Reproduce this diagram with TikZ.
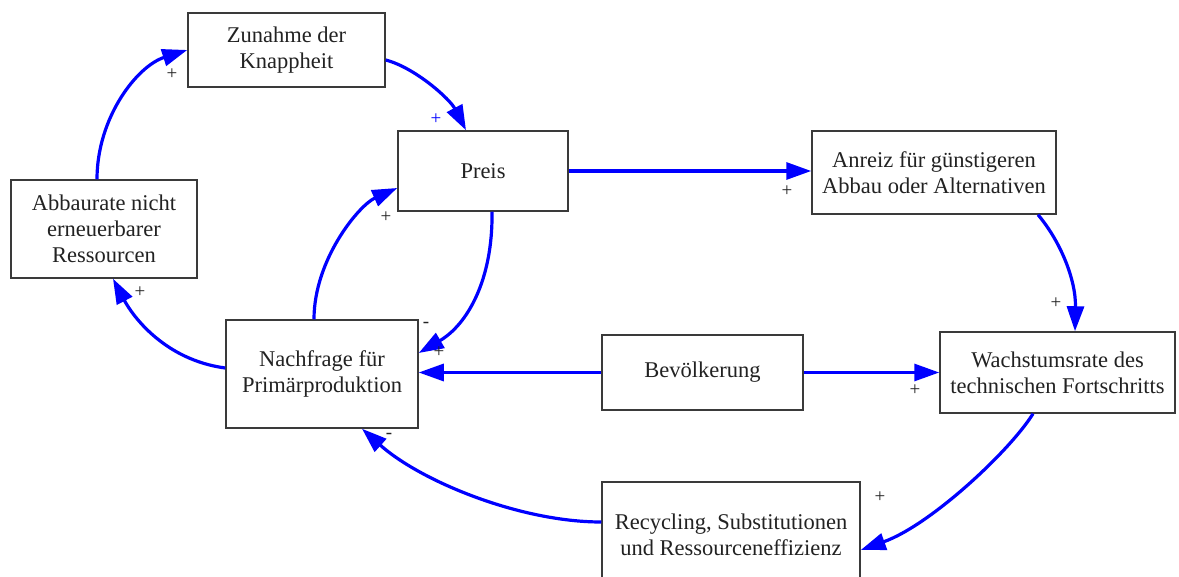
\documentclass[tikz,border=0pt]{standalone}
\usepackage{fontspec}
\setmainfont{Liberation Serif}
\usetikzlibrary{arrows.meta,calc}
\definecolor{boxline}{HTML}{3A3A3A}
\definecolor{ink}{HTML}{222222}
\definecolor{linkblue}{HTML}{0000FF}
\tikzset{
  box/.style={draw=boxline, line width=1.5pt, fill=white, inner sep=0pt,
    align=center, text=ink, font=\fontsize{22.5}{26}\selectfont},
  link/.style={draw=linkblue, line width=3.2pt,
    -{Triangle[length=25pt,width=17pt]}},
  sign/.style={text=ink, inner sep=0pt, font=\fontsize{19}{19}\selectfont}
}
\begin{document}
\begin{tikzpicture}[x=1pt,y=-1pt]
\useasboundingbox (0,0) rectangle (1179,577);
\clip (0,0) rectangle (1179,577);

% variables of the causal loop diagram
\node[box, minimum width=197pt, minimum height=74pt] (zun) at (286.5,50) {Zunahme der\\Knappheit};
\node[box, minimum width=186pt, minimum height=98pt] (abb) at (104,229) {Abbaurate nicht\\erneuerbarer\\Ressourcen};
\node[box, minimum width=170pt, minimum height=80pt] (preis) at (483,171) {Preis};
\node[box, minimum width=244pt, minimum height=83pt] (anr) at (934,172.5) {Anreiz für günstigeren\\Abbau oder Alternativen};
\node[box, minimum width=192pt, minimum height=108pt] (nach) at (322,374) {Nachfrage für\\Primärproduktion};
\node[box, minimum width=201pt, minimum height=75pt] (bev) at (702.5,372.5) {Bevölkerung};
\node[box, minimum width=235pt, minimum height=81pt] (wachs) at (1057.5,372.5) {Wachstumsrate des\\technischen Fortschritts};
\node[box, minimum width=258pt, minimum height=106pt] (rec) at (731,535) {Recycling, Substitutionen\\und Ressourceneffizienz};

% causal links
\draw[link] ([xshift=-7pt]abb.north) .. controls +(0,-62) and +(-50,16) .. (zun.west);
\draw[link] ([yshift=-10pt]zun.east) .. controls +(30,8) and +(-16,-31) .. ([xshift=-17pt]preis.north);
\draw[link] ([xshift=-8pt]nach.north) .. controls +(0,-60) and +(-38,17) .. ([yshift=-17pt]preis.west);
\draw[link] ([xshift=9pt]preis.south) .. controls +(1,69) and +(48,-28) .. ([yshift=21pt]nach.east);
\draw[link] (preis.east) -- (preis.east -| anr.west);
\draw[link] ([xshift=104pt]anr.south) .. controls +(22,26) and +(1,-52) .. ([xshift=17.5pt]wachs.north);
\draw[link] (bev.west) -- (bev.west -| nach.east);
\draw[link] (bev.east) -- (bev.east -| wachs.west);
\draw[link] ([xshift=-24.5pt]wachs.south) .. controls +(-23,37) and +(70,-25) .. ([yshift=-15pt]rec.east);
\draw[link] ([yshift=13pt]rec.west) .. controls +(-82,0) and +(58,52) .. ([xshift=40pt]nach.south);
\draw[link] ([yshift=6pt]nach.west) .. controls +(-60,-8) and +(20,38) .. ([xshift=9pt]abb.south);

% polarity signs
\node[sign] (s1) at (172,74) {+};
\node[sign, text=linkblue] (s2) at (436,119) {+};
\node[sign] (s3) at (386,217) {+};
\node[sign] (s4) at (426,325) {-};
\node[sign] (s5) at (439,352) {+};
\node[sign] (s6) at (787,191) {+};
\node[sign] (s7) at (1056,303) {+};
\node[sign] (s8) at (915,390) {+};
\node[sign] (s9) at (880,497) {+};
\node[sign] (s10) at (389,436) {-};
\node[sign] (s11) at (140,292) {+};
\end{tikzpicture}
\end{document}
